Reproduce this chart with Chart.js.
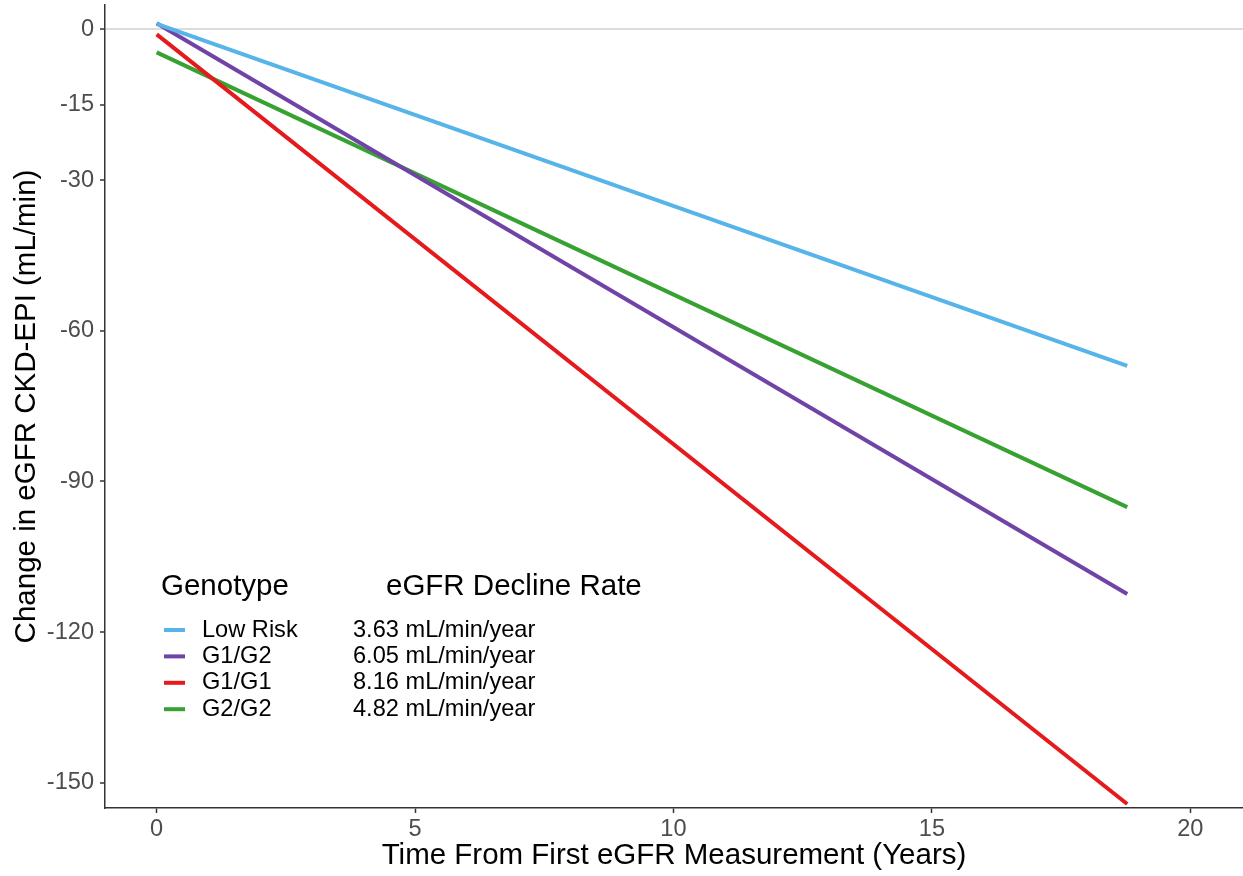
<!DOCTYPE html>
<html>
<head>
<meta charset="utf-8">
<script src="https://cdn.jsdelivr.net/npm/chart.js@4.4.1/dist/chart.umd.min.js"></script>
<style>
  html, body { margin: 0; padding: 0; background: #fff; }
  canvas { display: block; }
</style>
</head>
<body>
<canvas id="declineChart" width="1243" height="876"></canvas>
<script>
// data
const genotypes = ['Low Risk', 'G1/G2', 'G1/G1', 'G2/G2'];
const declineRates = ['3.63 mL/min/year', '6.05 mL/min/year', '8.16 mL/min/year', '4.82 mL/min/year'];
const lineColors = ['#56B4E9', '#7043A6', '#E41A1C', '#37A232'];
const timeYears = [0, 18.78];           // start / end of each fitted line
const startChange = [1.1, 1.2, -1.0, -4.6];
const endChange = [-67.0, -112.4, -154.2, -95.1];
const yTickValues = [0, -15, -30, -60, -90, -120, -150];
const xTickValues = [0, 5, 10, 15, 20];

const FONT = "'Liberation Sans', Arial, Helvetica, sans-serif";
Chart.defaults.font.family = FONT;

const datasets = genotypes.map((g, i) => ({
    label: g,
    data: [
        { x: timeYears[0], y: startChange[i] },
        { x: timeYears[1], y: endChange[i] }
    ],
    borderColor: lineColors[i],
    backgroundColor: lineColors[i],
    borderWidth: 4,
    borderCapStyle: 'butt',
    pointRadius: 0,
    fill: false,
    tension: 0
}));

// legend with two columns (genotype + decline rate), drawn inside the panel
const twoColumnLegend = {
    id: 'twoColumnLegend',
    afterDraw(chart) {
        const ctx = chart.ctx;
        const area = chart.chartArea;
        const x0 = area.left + 56;
        ctx.save();
        ctx.textBaseline = 'middle';
        ctx.fillStyle = '#000';
        ctx.font = '29.5px ' + FONT;
        ctx.fillText('Genotype', x0, 587);
        ctx.fillText('eGFR Decline Rate', x0 + 225, 587);
        ctx.font = '23.6px ' + FONT;
        genotypes.forEach((g, i) => {
            const y = 630 + i * 26.4;
            ctx.strokeStyle = lineColors[i];
            ctx.lineWidth = 4;
            ctx.beginPath();
            ctx.moveTo(x0 + 3, y);
            ctx.lineTo(x0 + 24, y);
            ctx.stroke();
            ctx.fillStyle = '#000';
            ctx.fillText(g, x0 + 41, y);
            ctx.fillText(declineRates[i], x0 + 192, y);
        });
        ctx.restore();
    }
};

new Chart(document.getElementById('declineChart'), {
    type: 'line',
    data: { datasets: datasets },
    options: {
        responsive: false,
        animation: false,
        layout: { padding: { top: 5, right: 0, bottom: 0, left: 0 } },
        plugins: {
            legend: { display: false },
            tooltip: { enabled: false }
        },
        scales: {
            x: {
                type: 'linear',
                min: -1,
                max: 21.02,
                afterBuildTicks: scale => { scale.ticks = xTickValues.map(v => ({ value: v })); },
                afterFit: scale => {
                    scale.height = 68;
                    scale.paddingLeft = 0;
                    scale.paddingRight = 0;
                },
                ticks: {
                    color: '#4d4d4d',
                    font: { size: 23.6 },
                    padding: 2,
                    maxRotation: 0
                },
                grid: {
                    color: 'rgba(0,0,0,0)',
                    tickColor: '#333',
                    tickLength: 5,
                    tickWidth: 1.5
                },
                border: { color: '#333', width: 1.5 },
                title: {
                    display: true,
                    text: 'Time From First eGFR Measurement (Years)',
                    color: '#000',
                    font: { size: 29.5 },
                    padding: { top: 0, bottom: 2 }
                }
            },
            y: {
                type: 'linear',
                min: -155,
                max: 4.84,
                afterBuildTicks: scale => { scale.ticks = yTickValues.map(v => ({ value: v })); },
                afterFit: scale => {
                    scale.width = 105;
                    scale.paddingTop = 0;
                    scale.paddingBottom = 0;
                },
                ticks: {
                    color: '#4d4d4d',
                    font: { size: 23.6 },
                    padding: 6
                },
                grid: {
                    color: c => (c.tick && c.tick.value === 0) ? '#dcdcdc' : 'rgba(0,0,0,0)',
                    lineWidth: 2,
                    tickColor: '#333',
                    tickLength: 5,
                    tickWidth: 1.5
                },
                border: { color: '#333', width: 1.5 },
                title: {
                    display: true,
                    text: 'Change in eGFR CKD-EPI (mL/min)',
                    color: '#000',
                    font: { size: 29.5 },
                    padding: { top: 9, bottom: 0 }
                }
            }
        }
    },
    plugins: [twoColumnLegend]
});
</script>
</body>
</html>
